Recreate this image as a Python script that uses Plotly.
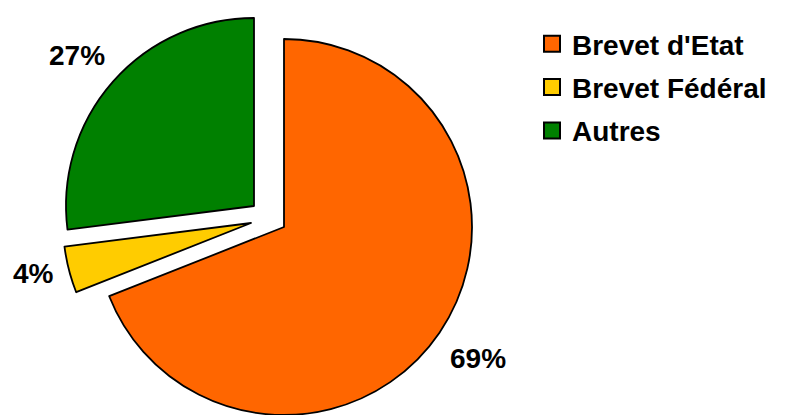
import plotly.graph_objects as go

# ---- data ----
labels = ["Brevet d'Etat", "Brevet Fédéral", "Autres"]
values = [69, 4, 27]
colors = ["#FF6600", "#FFCC00", "#008000"]

OFF = 8                 # page body margin in the browser
W, H = 785 - OFF, 415 - OFF
R = 188  # pie radius in px

# slice centres in px (window coords); first slice not pulled out
centres = [(284, 227), (251, 223), (254, 206)]
# label positions in px (window coords)
label_pos = [(478, 358), (33, 273), (77, 55)]

FONT = "Liberation Sans, Arial, sans-serif"


def clamp(v):
    return min(1.0, max(0.0, v))


fig = go.Figure()

for i, (cx, cy) in enumerate(centres):
    cx, cy = cx - OFF, cy - OFF
    cols = [c if j == i else "rgba(0,0,0,0)" for j, c in enumerate(colors)]
    lw = [1.8 if j == i else 0 for j in range(len(colors))]
    fig.add_trace(go.Pie(
        labels=labels, values=values, sort=False, direction="clockwise",
        rotation=0, textinfo="none", showlegend=False, hoverinfo="label+percent",
        marker=dict(colors=cols, line=dict(color="black", width=lw)),
        domain=dict(x=[clamp((cx - R) / W), clamp((cx + R) / W)],
                    y=[clamp((H - cy - R) / H), clamp((H - cy + R) / H)]),
    ))

# legend entries
for lab, col in zip(labels, colors):
    fig.add_trace(go.Scatter(
        x=[None], y=[None], mode="markers", name=lab, legendgroup=lab,
        marker=dict(symbol="square", size=16, color=col,
                    line=dict(color="black", width=2)),
    ))

total = sum(values)
for v, (lx, ly) in zip(values, label_pos):
    fig.add_annotation(
        x=(lx - OFF) / W, y=1 - (ly - OFF) / H, xref="paper", yref="paper",
        text=f"{round(100 * v / total)}%", showarrow=False,
        font=dict(family=FONT, size=28, color="black", weight="bold"),
        xanchor="center", yanchor="middle",
    )

fig.update_layout(
    width=W, height=H, margin=dict(l=0, r=0, t=0, b=0),
    paper_bgcolor="white", plot_bgcolor="white",
    xaxis=dict(visible=False), yaxis=dict(visible=False),
    showlegend=True,
    legend=dict(x=(532 - OFF) / W, y=1 - (19 - OFF) / H, xanchor="left", yanchor="top",
                font=dict(family=FONT, size=28, color="black", weight="bold"),
                tracegroupgap=4, bgcolor="rgba(0,0,0,0)"),
)

fig.write_html("out.html")
